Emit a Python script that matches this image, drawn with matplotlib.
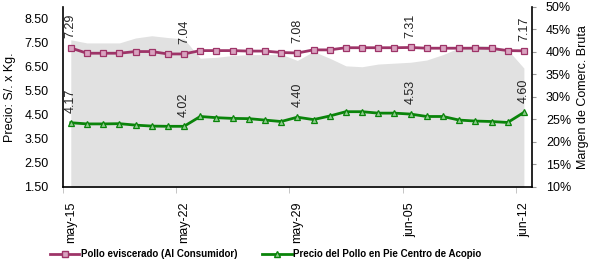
import matplotlib
matplotlib.use("Agg")
import matplotlib.pyplot as plt
from matplotlib.lines import Line2D
import numpy as np

# ---- data ----
dates = ["may-15", "may-16", "may-17", "may-18", "may-19", "may-20", "may-21",
         "may-22", "may-23", "may-24", "may-25", "may-26", "may-27", "may-28",
         "may-29", "may-30", "may-31", "jun-01", "jun-02", "jun-03", "jun-04",
         "jun-05", "jun-06", "jun-07", "jun-08", "jun-09", "jun-10", "jun-11",
         "jun-12"]
tick_labels = ["may-15", "may-22", "may-29", "jun-05", "jun-12"]
tick_idx = [0, 7, 14, 21, 28]

pollo_eviscerado = [7.29, 7.07, 7.07, 7.07, 7.14, 7.14, 7.04, 7.04, 7.18, 7.18,
                    7.18, 7.16, 7.16, 7.10, 7.08, 7.21, 7.21, 7.30, 7.30, 7.30,
                    7.30, 7.31, 7.28, 7.28, 7.28, 7.28, 7.27, 7.18, 7.17]
pollo_pie = [4.17, 4.12, 4.12, 4.13, 4.07, 4.03, 4.02, 4.02, 4.43, 4.38,
             4.35, 4.34, 4.28, 4.22, 4.40, 4.30, 4.45, 4.63, 4.63, 4.57,
             4.57, 4.53, 4.43, 4.43, 4.28, 4.24, 4.22, 4.18, 4.60]
margen = [42.7, 42.0, 42.0, 42.0, 43.1, 43.6, 43.2, 42.9, 38.6, 38.8,
          39.2, 39.4, 39.4, 39.5, 38.1, 40.1, 38.6, 36.9, 36.7, 37.3,
          37.5, 37.7, 38.2, 39.4, 40.9, 41.4, 41.4, 40.5, 36.4]

left_ticks = [1.5, 2.5, 3.5, 4.5, 5.5, 6.5, 7.5, 8.5]
right_ticks = [10, 15, 20, 25, 30, 35, 40, 45, 50]

FONT = ['Liberation Sans Narrow', 'Liberation Sans', 'DejaVu Sans']
plt.rcParams['font.family'] = FONT

PINK = "#9E3468"
PINK_FACE = "#D9A3C0"
GREEN = "#0A840A"
GREEN_FACE = "#8FCB8F"
GRAY = "#E1E1E1"

fig = plt.figure(figsize=(5.92, 2.69), dpi=100)
ax = fig.add_axes([0.1059, 0.306, 0.7927, 0.668])
ax2 = ax.twinx()

x = np.arange(len(dates))

# area (margin) on right axis
ax2.fill_between(x, 0, margen, color=GRAY, linewidth=0, zorder=1)
ax2.set_ylim(10, 50)
ax2.set_yticks(right_ticks)
ax2.set_yticklabels([f"{v}%" for v in right_ticks], fontsize=9)
ax2.tick_params(axis='y', length=3, color="#999999", pad=7)
ax2.set_ylabel("Margen de Comerc. Bruta", fontsize=9, labelpad=4)

ax.set_zorder(ax2.get_zorder() + 1)
ax.patch.set_visible(False)

ax.plot(x, pollo_eviscerado, color=PINK, lw=2, marker='s', ms=5,
        mfc=PINK_FACE, mec=PINK, mew=0.9, zorder=3)
ax.plot(x, pollo_pie, color=GREEN, lw=2, marker='^', ms=5,
        mfc=GREEN_FACE, mec=GREEN, mew=0.9, zorder=3)

for i in tick_idx:
    ax.annotate(f"{pollo_eviscerado[i]:.2f}", (x[i], pollo_eviscerado[i]),
                xytext=(0, 7), textcoords='offset points', rotation=90,
                ha='center', va='bottom', fontsize=9, color="#222222")
    ax.annotate(f"{pollo_pie[i]:.2f}", (x[i], pollo_pie[i]),
                xytext=(0, 7), textcoords='offset points', rotation=90,
                ha='center', va='bottom', fontsize=9, color="#222222")

ax.set_xlim(-0.5, 28.5)
ax.set_ylim(1.5, 9.0)
ax.set_yticks(left_ticks)
ax.set_yticklabels([f"{v:.2f}" for v in left_ticks], fontsize=9)
ax.tick_params(axis='y', length=0, pad=10)
ax.set_ylabel("Precio: S/. x Kg.", fontsize=9, labelpad=6)

ax.set_xticks(tick_idx)
ax.set_xticklabels(tick_labels, rotation=90, fontsize=9)
ax.tick_params(axis='x', which='major', length=0, pad=11)
ax.set_xticks([i - 0.5 for i in tick_idx], minor=True)
ax.tick_params(axis='x', which='minor', length=4, color="#BBBBBB")

for a in (ax, ax2):
    a.spines['top'].set_visible(False)
    for s in ('left', 'right', 'bottom'):
        a.spines[s].set_color('black')
        a.spines[s].set_linewidth(1.2)
ax2.spines['left'].set_visible(False)
ax2.spines['bottom'].set_visible(False)
ax.spines['right'].set_visible(False)

handles = [
    Line2D([0], [0], color=PINK, lw=2, marker='s', ms=4, mfc=PINK_FACE, mec=PINK),
    Line2D([0], [0], color=GREEN, lw=2, marker='^', ms=4, mfc=GREEN_FACE, mec=GREEN),
]
fig.legend(handles, ["Pollo eviscerado (Al Consumidor)",
                     "Precio del Pollo en Pie Centro de Acopio"],
           loc='center left', bbox_to_anchor=(50 / 592, 0.055), ncol=2,
           frameon=False, borderpad=0, borderaxespad=0,
           handlelength=3.0, handletextpad=0.15, columnspacing=2.6,
           prop={'size': 7, 'weight': 'bold', 'family': FONT})

fig.savefig("out.png", dpi=100)
